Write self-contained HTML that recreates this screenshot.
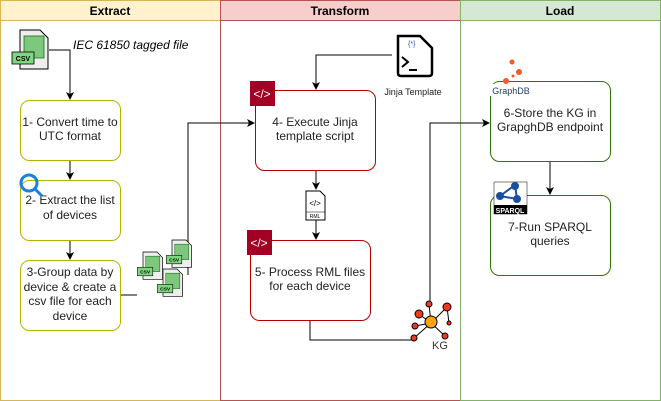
<!DOCTYPE html>
<html><head><meta charset="utf-8"><style>body{margin:0;background:#fff}svg{display:block}text{font-family:"Liberation Sans",sans-serif}</style></head><body>
<svg width="661" height="401" viewBox="0 0 661 401" xmlns="http://www.w3.org/2000/svg">
<defs><marker id="a" markerWidth="8" markerHeight="8" refX="7" refY="4" orient="auto" markerUnits="userSpaceOnUse"><path d="M0,0 L8,4 L0,8 L2,4 Z" fill="#000"/></marker></defs>
<rect x="0.5" y="0.5" width="220" height="400" fill="#fff" stroke="#d6b656"/>
<rect x="0.5" y="0.5" width="220" height="20" fill="#fff2cc" stroke="#d6b656"/>
<rect x="220.5" y="0.5" width="240" height="400" fill="#fff" stroke="#b85450"/>
<rect x="220.5" y="0.5" width="240" height="20" fill="#f8cecc" stroke="#b85450"/>
<rect x="460.5" y="0.5" width="200" height="400" fill="#fff" stroke="#82b366"/>
<rect x="460.5" y="0.5" width="200" height="20" fill="#d5e8d4" stroke="#82b366"/>
<g font-weight="bold" font-size="12" text-anchor="middle"><text x="110" y="15">Extract</text><text x="340" y="15">Transform</text><text x="560" y="15">Load</text></g>
<g fill="none" stroke="#000" stroke-width="1">
<path d="M49,50 H70 V99" marker-end="url(#a)"/>
<path d="M70,160 V179" marker-end="url(#a)"/>
<path d="M70,240 V259" marker-end="url(#a)"/>
<path d="M120,295 H137"/>
<path d="M188,275 V123 H254" marker-end="url(#a)"/>
<path d="M392,55 H316 V89" marker-end="url(#a)"/>
<path d="M316,170 V189" marker-end="url(#a)"/>
<path d="M316,220 V239" marker-end="url(#a)"/>
<path d="M310,320 V340 H412"/>
<path d="M430,303 V123 H489" marker-end="url(#a)"/>
<path d="M550,161 V194" marker-end="url(#a)"/>
</g>
<g fill="#fff" stroke-width="1">
<rect x="20.5" y="100.5" width="100" height="60" rx="9" stroke="#b3b300"/>
<rect x="20.5" y="180.5" width="100" height="60" rx="9" stroke="#b3b300"/>
<rect x="20.5" y="260.5" width="100" height="70" rx="9" stroke="#b3b300"/>
<rect x="255.5" y="90.5" width="120" height="80" rx="9" stroke="#b20000"/>
<rect x="250.5" y="240.5" width="120" height="80" rx="9" stroke="#b20000"/>
<rect x="490.5" y="81.5" width="120" height="80" rx="9" stroke="#2d7600"/>
<rect x="490.5" y="195.5" width="120" height="80" rx="9" stroke="#2d7600"/>
</g>
<rect x="488" y="84" width="44" height="12" fill="#fff"/>
<g font-size="12" fill="#222" text-anchor="middle">
<text x="70" y="126">1- Convert time to</text><text x="70" y="140">UTC format</text>
<text x="70" y="204">2- Extract the list</text><text x="70" y="219">of devices</text>
<text x="70" y="276">3-Group data by</text><text x="70" y="291">device &amp; create a</text><text x="70" y="305">csv file for each</text><text x="70" y="320">device</text>
<text x="315" y="126">4- Execute Jinja</text><text x="315" y="140">template script</text>
<text x="310" y="276">5- Process RML files</text><text x="310" y="290">for each device</text>
<text x="550" y="117">6-Store the KG in</text><text x="550" y="131">GrapghDB endpoint</text>
<text x="550" y="231">7-Run SPARQL</text><text x="550" y="245">queries</text>
</g>
<text x="73" y="49" font-size="12" font-style="italic">IEC 61850 tagged file</text>
<text x="413" y="95" font-size="9" text-anchor="middle" fill="#222">Jinja Template</text>
<text x="440" y="349" font-size="11" text-anchor="middle" fill="#333">KG</text>
<text x="511" y="94" font-size="9" text-anchor="middle" fill="#1d3f6e">GraphDB</text>
<g id="csv">
<path d="M20,30 H40 L48,38 V69 H20 Z" fill="#eee" stroke="#000"/>
<rect x="24" y="36" width="20" height="22" fill="#7ec87e" stroke="#1a6b1a" stroke-width="0.8"/>
<rect x="12" y="52" width="22" height="12" fill="#7ed67e" stroke="#000" stroke-width="0.8"/>
<text x="23" y="61" font-size="7" font-weight="bold" text-anchor="middle">CSV</text>
</g>
<use href="#csv" transform="translate(129,231) scale(0.7)"/>
<use href="#csv" transform="translate(158,219) scale(0.7)"/>
<use href="#csv" transform="translate(149,248) scale(0.7)"/>
<circle cx="29" cy="183" r="8" fill="none" stroke="#1a7fe0" stroke-width="3"/>
<path d="M35,189 L42,196" stroke="#1a7fe0" stroke-width="3"/>
<rect x="250" y="81" width="25" height="25" fill="#a20025"/><text x="262" y="98" font-size="12" fill="#fff" text-anchor="middle">&lt;/&gt;</text>
<rect x="247" y="230" width="25" height="25" fill="#a20025"/><text x="259" y="247" font-size="12" fill="#fff" text-anchor="middle">&lt;/&gt;</text>
<path d="M398,36 H420 L432,48 V73 Q432,76 429,76 H401 Q398,76 398,73 Z" fill="#fff" stroke="#000" stroke-width="2.5"/>
<path d="M402,57 L408,62 L402,67" fill="none" stroke="#000" stroke-width="2"/><path d="M409,70 H417" stroke="#000" stroke-width="2"/>
<text x="408" y="46" font-size="7" fill="#2255aa">{*}</text>
<path d="M306,191 H320 L325,196 V220 H306 Z" fill="#fff" stroke="#000"/><text x="315" y="206" font-size="8" text-anchor="middle">&lt;/&gt;</text><text x="315" y="218" font-size="5" text-anchor="middle">RML</text><path d="M306,212 H325" stroke="#000" stroke-width="0.6"/>
<g stroke="#000" stroke-width="1"><path d="M431,323 L429,304 M431,323 L447,307 M431,323 L419,314 M431,323 L415,326 M431,323 L414,338 M431,323 L445,336 M447,307 L449,323"/>
<g fill="#f03c1e"><circle cx="429" cy="304" r="3"/><circle cx="447" cy="307" r="4"/><circle cx="419" cy="314" r="4"/><circle cx="415" cy="326" r="3"/><circle cx="414" cy="338" r="3"/><circle cx="445" cy="336" r="3"/><circle cx="449" cy="323" r="2"/></g>
<circle cx="431" cy="322" r="6" fill="#ffa500"/></g>
<g fill="#f05a28"><circle cx="512" cy="62" r="2.5"/><circle cx="519" cy="72" r="3"/><circle cx="513" cy="76" r="1.5"/><circle cx="506" cy="81" r="3"/></g>
<rect x="494" y="182" width="33" height="32" fill="#fff" stroke="#000" stroke-width="0.5"/>
<rect x="494" y="205" width="33" height="9" fill="#000"/><text x="510" y="213" font-size="7" fill="#fff" text-anchor="middle" font-weight="bold">SPARQL</text>
<g stroke="#1a4fa0" stroke-width="2" fill="#1a4fa0"><path d="M500,196 L515,185 L517,199 Z" fill="none"/><circle cx="500" cy="196" r="3"/><circle cx="515" cy="186" r="3"/><circle cx="517" cy="199" r="3"/></g>
</svg>
</body></html>
